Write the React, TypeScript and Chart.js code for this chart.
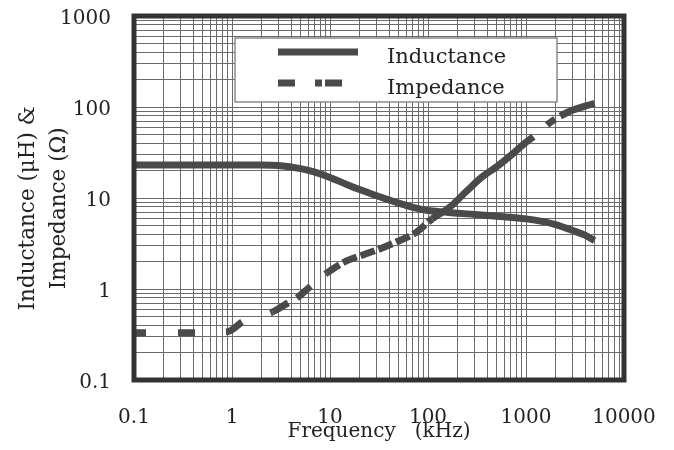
import React, { useEffect, useRef } from 'react';
import { Chart, registerables } from 'chart.js';

Chart.register(...registerables);

// Frequency (kHz) and inductance (µH)
const inductanceFreq = [0.1, 0.3, 1, 2, 3, 5, 7, 10, 15, 20, 30, 50, 70, 100, 150, 200, 300, 500, 1000, 1500, 2000, 3000, 4000, 5000];
const inductanceValues = [23, 23, 23, 23, 22.7, 21, 19.2, 16.8, 14, 12.4, 10.6, 8.8, 7.9, 7.3, 7.0, 6.8, 6.6, 6.3, 5.9, 5.5, 5.1, 4.4, 3.9, 3.4];

// Frequency (kHz) and impedance (Ω)
const impedanceFreq = [0.1, 0.3, 0.9, 1.3, 2.6, 3.7, 4.6, 6.2, 9.3, 14, 20, 30, 48, 76, 110, 164, 250, 355, 500, 665, 1000, 1190, 1780, 2700, 5000];
const impedanceValues = [0.33, 0.33, 0.34, 0.44, 0.56, 0.7, 0.8, 1.05, 1.5, 1.98, 2.3, 2.68, 3.3, 4.2, 5.9, 7.8, 12, 17, 22, 28, 41, 47, 68, 88, 110];

const xTickLabels = [0.1, 1, 10, 100, 1000, 10000];
const yTickLabels = [0.1, 1, 10, 100, 1000];

const seriesLabels = ['Inductance', 'Impedance'];
const xTitle = 'Frequency   (kHz)';
const yTitle = ['Inductance (μH) &   ', 'Impedance (Ω)   '];

// styling
const FONT = "'DejaVu Serif', serif";
const TEXT = '#222222';
const LINE = '#4a4a4a';
const GRID = '#6a6a6a';
// the scanned dashed curve is irregular: dash style changes along frequency
const dashStyleBreaks = [2.6, 9.3, 110, 1190];
const dashStyles = [
  [12, 32, 17, 31, 19, 30],
  [18, 10, 18, 19],
  [15, 4],
  [],
  [0, 18, 10, 6, 80],
];
const LEGEND_DASH = [17, 20, 7, 3];

function dashFor(x0: number) {
  for (let i = 0; i < dashStyleBreaks.length; i++) {
    if (x0 < dashStyleBreaks[i] - 1e-9) return dashStyles[i];
  }
  return dashStyles[dashStyles.length - 1];
}

function gridTicks(decades: number[]) {
  const out: { value: number }[] = [];
  for (let i = 0; i < decades.length; i++) {
    const d = decades[i];
    if (i === decades.length - 1) {
      out.push({ value: d });
      break;
    }
    for (let k = 1; k < 10; k++) out.push({ value: parseFloat((d * k).toPrecision(6)) });
  }
  return out;
}

function zeroPadding(s: any) {
  s.paddingTop = 0;
  s.paddingBottom = 0;
  s.paddingLeft = 0;
  s.paddingRight = 0;
}

const frameAndLegend = {
  id: 'frameAndLegend',
  afterDatasetsDraw(chart: any) {
    const { ctx, chartArea } = chart;
    const { left, top, right, bottom } = chartArea;
    ctx.save();
    // legend box
    const bx = left + 101, by = top + 22, bw = 322, bh = 64;
    ctx.fillStyle = '#ffffff';
    ctx.fillRect(bx, by, bw, bh);
    ctx.strokeStyle = '#8a8a8a';
    ctx.lineWidth = 1.5;
    ctx.strokeRect(bx, by, bw, bh);
    const ds = chart.data.datasets;
    ctx.lineCap = 'butt';
    ctx.strokeStyle = LINE;
    ctx.lineWidth = 7;
    ctx.setLineDash([]);
    ctx.beginPath();
    ctx.moveTo(bx + 43, by + 14);
    ctx.lineTo(bx + 123, by + 14);
    ctx.stroke();
    ctx.setLineDash(LEGEND_DASH);
    ctx.beginPath();
    ctx.moveTo(bx + 43, by + 45);
    ctx.lineTo(bx + 110, by + 45);
    ctx.stroke();
    ctx.setLineDash([]);
    ctx.fillStyle = TEXT;
    ctx.font = `21px ${FONT}`;
    ctx.textBaseline = 'middle';
    ctx.textAlign = 'left';
    ctx.fillText(ds[0].label, bx + 152, by + 20);
    ctx.fillText(ds[1].label, bx + 152, by + 51);
    // frame
    ctx.strokeStyle = '#333333';
    ctx.lineWidth = 5;
    ctx.strokeRect(left, top, right - left, bottom - top);
    ctx.restore();
  },
};

export default function App() {
  const ref = useRef<HTMLCanvasElement | null>(null);
  useEffect(() => {
    if (!ref.current) return;
    const chart = new Chart(ref.current, {
      type: 'line',
      data: {
        datasets: [
          {
            label: seriesLabels[0],
            data: inductanceFreq.map((f, i) => ({ x: f, y: inductanceValues[i] })),
            borderColor: LINE,
            borderWidth: 7,
            pointRadius: 0,
            cubicInterpolationMode: 'monotone',
            fill: false,
          },
          {
            label: seriesLabels[1],
            data: impedanceFreq.map((f, i) => ({ x: f, y: impedanceValues[i] })),
            borderColor: LINE,
            borderWidth: 7,
            borderCapStyle: 'butt',
            segment: {
              borderDash: (c: any) => dashFor(c.p0.parsed.x),
            },
            pointRadius: 0,
            cubicInterpolationMode: 'monotone',
            fill: false,
          },
        ],
      },
      options: {
        animation: false,
        responsive: true,
        maintainAspectRatio: false,
        layout: { autoPadding: false, padding: { left: 0, top: 8, right: 42, bottom: 0 } },
        plugins: { legend: { display: false }, tooltip: { enabled: false } },
        scales: {
          x: {
            type: 'logarithmic',
            min: 0.1,
            max: 10000,
            afterBuildTicks: (s: any) => {
              s.ticks = gridTicks(xTickLabels);
            },
            afterFit: (s: any) => {
              s.height = 62;
              zeroPadding(s);
            },
            ticks: {
              autoSkip: false,
              maxRotation: 0,
              padding: 26,
              color: TEXT,
              font: { family: FONT, size: 20 },
              callback: (v: any) => (xTickLabels.includes(v) ? String(v) : ''),
            },
            grid: { color: GRID, lineWidth: 1, drawTicks: false },
            border: { display: false },
            title: {
              display: true,
              text: xTitle,
              color: TEXT,
              font: { family: FONT, size: 20, lineHeight: 1 },
              padding: { top: 0, bottom: 0 },
            },
          },
          y: {
            type: 'logarithmic',
            min: 0.1,
            max: 1000,
            afterBuildTicks: (s: any) => {
              s.ticks = gridTicks(yTickLabels);
            },
            afterFit: (s: any) => {
              s.width = 126;
              zeroPadding(s);
            },
            ticks: {
              autoSkip: false,
              padding: 23,
              labelOffset: 3,
              color: TEXT,
              font: { family: FONT, size: 20 },
              callback: (v: any) => (yTickLabels.includes(v) ? String(v) : ''),
            },
            grid: { color: GRID, lineWidth: 1, drawTicks: false },
            border: { display: false },
            title: {
              display: true,
              text: yTitle,
              color: TEXT,
              font: { family: FONT, size: 21.5, lineHeight: 1.44 },
              padding: { top: 4.5, bottom: 0 },
            },
          },
        },
      },
      plugins: [frameAndLegend],
    } as any);
    return () => chart.destroy();
  }, []);
  return (
    <div style={{ position: 'relative', width: '658px', height: '434px' }}>
      <canvas ref={ref} />
    </div>
  );
}
